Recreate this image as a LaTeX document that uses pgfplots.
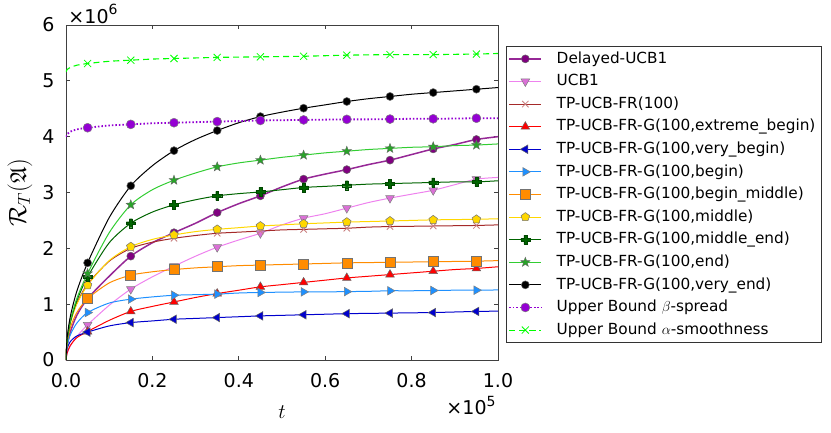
\documentclass[border=0pt]{standalone}
\usepackage{amssymb}
\usepackage{fontspec}
\setmainfont{DejaVu Sans}
\usepackage{pgfplots}
\usepackage{pgfplotstable}
\pgfplotsset{compat=1.18}
\usetikzlibrary{plotmarks}

\definecolor{cDel}{RGB}{128,0,128}
\definecolor{cDelL}{RGB}{150,40,150}
\definecolor{cUCB}{RGB}{238,130,238}
\definecolor{cUCBm}{RGB}{218,112,214}
\definecolor{cFR}{RGB}{165,42,42}
\definecolor{cEB}{RGB}{255,0,0}
\definecolor{cVB}{RGB}{0,0,205}
\definecolor{cB}{RGB}{30,144,255}
\definecolor{cBM}{RGB}{255,140,0}
\definecolor{cM}{RGB}{255,215,0}
\definecolor{cME}{RGB}{0,100,0}
\definecolor{cE}{RGB}{50,205,50}
\definecolor{cBeta}{RGB}{148,0,211}
\definecolor{cAlpha}{RGB}{0,255,0}

\pgfdeclareplotmark{fatplus}{%
  \pgfpathmoveto{\pgfqpoint{-0.33\pgfplotmarksize}{-\pgfplotmarksize}}%
  \pgfpathlineto{\pgfqpoint{0.33\pgfplotmarksize}{-\pgfplotmarksize}}%
  \pgfpathlineto{\pgfqpoint{0.33\pgfplotmarksize}{-0.33\pgfplotmarksize}}%
  \pgfpathlineto{\pgfqpoint{\pgfplotmarksize}{-0.33\pgfplotmarksize}}%
  \pgfpathlineto{\pgfqpoint{\pgfplotmarksize}{0.33\pgfplotmarksize}}%
  \pgfpathlineto{\pgfqpoint{0.33\pgfplotmarksize}{0.33\pgfplotmarksize}}%
  \pgfpathlineto{\pgfqpoint{0.33\pgfplotmarksize}{\pgfplotmarksize}}%
  \pgfpathlineto{\pgfqpoint{-0.33\pgfplotmarksize}{\pgfplotmarksize}}%
  \pgfpathlineto{\pgfqpoint{-0.33\pgfplotmarksize}{0.33\pgfplotmarksize}}%
  \pgfpathlineto{\pgfqpoint{-\pgfplotmarksize}{0.33\pgfplotmarksize}}%
  \pgfpathlineto{\pgfqpoint{-\pgfplotmarksize}{-0.33\pgfplotmarksize}}%
  \pgfpathlineto{\pgfqpoint{-0.33\pgfplotmarksize}{-0.33\pgfplotmarksize}}%
  \pgfpathclose\pgfusepathqfillstroke}
\pgfdeclareplotmark{fatstar}{%
  \pgfpathmoveto{\pgfpointpolar{90}{\pgfplotmarksize}}%
  \pgfpathlineto{\pgfpointpolar{126}{0.42\pgfplotmarksize}}%
  \pgfpathlineto{\pgfpointpolar{162}{\pgfplotmarksize}}%
  \pgfpathlineto{\pgfpointpolar{198}{0.42\pgfplotmarksize}}%
  \pgfpathlineto{\pgfpointpolar{234}{\pgfplotmarksize}}%
  \pgfpathlineto{\pgfpointpolar{270}{0.42\pgfplotmarksize}}%
  \pgfpathlineto{\pgfpointpolar{306}{\pgfplotmarksize}}%
  \pgfpathlineto{\pgfpointpolar{342}{0.42\pgfplotmarksize}}%
  \pgfpathlineto{\pgfpointpolar{18}{\pgfplotmarksize}}%
  \pgfpathlineto{\pgfpointpolar{54}{0.42\pgfplotmarksize}}%
  \pgfpathclose\pgfusepathqfillstroke}

\pgfplotstableread{
t      ducb  ucb   fr    eb    vb    b     bm    m     me    e     ve    beta  alpha
0      0     0     0     0     0     0     0     0     0     0     0     4.00  5.16
0.0025 0.25  0.12  0.35  0.12  0.20  0.25  0.30  0.33  0.33  0.35  0.39  4.04  5.20
0.01   0.50  0.25  0.70  0.26  0.33  0.45  0.58  0.66  0.67  0.70  0.78  4.09  5.24
0.025  0.80  0.42  1.02  0.40  0.43  0.66  0.85  1.00  1.06  1.10  1.23  4.13  5.28
0.05   1.10  0.63  1.36  0.51  0.50  0.85  1.10  1.34  1.49  1.55  1.74  4.16  5.31
0.1    1.50  0.98  1.77  0.71  0.61  1.02  1.38  1.78  2.10  2.28  2.55  4.20  5.35
0.15   1.86  1.27  2.00  0.87  0.67  1.09  1.52  2.03  2.45  2.78  3.12  4.22  5.37
0.2    2.10  1.49  2.11  0.96  0.70  1.13  1.58  2.16  2.65  3.05  3.48  4.24  5.39
0.25   2.28  1.68  2.18  1.04  0.73  1.16  1.62  2.24  2.78  3.22  3.75  4.25  5.40
0.3    2.45  1.86  2.23  1.12  0.745 1.17  1.65  2.30  2.87  3.35  3.95  4.26  5.41
0.35   2.64  2.02  2.27  1.19  0.76  1.18  1.67  2.34  2.94  3.46  4.11  4.27  5.42
0.4    2.80  2.15  2.29  1.25  0.775 1.20  1.69  2.37  2.98  3.53  4.25  4.28  5.425
0.45   2.94  2.27  2.31  1.31  0.79  1.21  1.70  2.40  3.01  3.58  4.36  4.29  5.43
0.5    3.10  2.42  2.33  1.35  0.80  1.215 1.71  2.42  3.05  3.63  4.44  4.295 5.435
0.55   3.24  2.54  2.34  1.39  0.81  1.22  1.72  2.44  3.09  3.67  4.51  4.30  5.44
0.6    3.33  2.62  2.35  1.43  0.82  1.22  1.73  2.455 3.11  3.71  4.57  4.305 5.45
0.65   3.41  2.72  2.36  1.47  0.83  1.225 1.74  2.47  3.13  3.74  4.63  4.31  5.46
0.7    3.50  2.82  2.38  1.50  0.835 1.23  1.745 2.48  3.15  3.77  4.68  4.31  5.465
0.75   3.58  2.90  2.39  1.53  0.84  1.24  1.75  2.49  3.16  3.79  4.72  4.315 5.47
0.8    3.68  2.97  2.395 1.56  0.845 1.24  1.755 2.50  3.17  3.81  4.76  4.32  5.47
0.85   3.78  3.04  2.40  1.59  0.85  1.245 1.76  2.51  3.18  3.82  4.79  4.32  5.47
0.9    3.86  3.14  2.405 1.62  0.86  1.25  1.765 2.515 3.19  3.84  4.82  4.325 5.475
0.95   3.95  3.24  2.41  1.64  0.87  1.25  1.77  2.52  3.19  3.85  4.85  4.33  5.48
1.0    4.00  3.27  2.42  1.67  0.875 1.255 1.78  2.53  3.21  3.87  4.88  4.33  5.49
}\data

\begin{document}
\begin{tikzpicture}
\begin{axis}[
  scale only axis, width=432pt, height=335pt,
  at={(0pt,0pt)}, anchor=south west,
  xmin=0, xmax=1, ymin=0, ymax=6,
  axis line style={black!75, line width=0.9pt},
  tick style={black!75, line width=0.8pt},
  tick align=inside, major tick length=4pt,
  xtick={0,0.2,0.4,0.6,0.8,1.0}, ytick={0,1,2,3,4,5,6},
  minor tick num=0,
  scaled ticks=false,
  /pgf/number format/assume math mode=true,
  xticklabel style={yshift=-9.5pt, /pgf/number format/.cd, fixed, zerofill, precision=1},
  yticklabel style={xshift=-8pt},
  ticklabel style={font=\fontsize{19}{22}\selectfont},
  clip=true,
  every axis plot/.append style={smooth, tension=0.45, mark repeat=2, mark phase=5},
  legend cell align=left,
  legend image code/.code={\draw[mark repeat=2, mark phase=2] plot coordinates {(0pt,0pt) (16pt,0pt) (32pt,0pt)}; \path (43pt,0pt);},
  legend style={at={(axis description cs:1.0185,0.937)}, anchor=north west,
    draw=black!80, line width=0.9pt, font=\fontsize{15.3}{18}\selectfont,
    nodes={inner sep=3.5pt, text height=12pt, text depth=3.6pt},
    row sep=0pt, inner xsep=2pt, inner ysep=1pt},
  mark options={solid},
]
\addplot[cDelL, line width=1.5pt, mark=*, mark size=4pt, mark options={fill=cDel, draw=black!60, line width=0.5pt}] table[x=t,y=ducb]{\data};
\addlegendentry{Delayed-UCB1}
\addplot[cUCB, line width=1pt, mark=triangle*, mark size=5pt, mark options={rotate=180, fill=cUCBm, draw=black!50, line width=0.5pt}] table[x=t,y=ucb]{\data};
\addlegendentry{UCB1}
\addplot[cFR, line width=1pt, mark=x, mark size=4.5pt, mark options={draw=cFR!60!white, line width=0.8pt}] table[x=t,y=fr]{\data};
\addlegendentry{TP-UCB-FR(100)}
\addplot[cEB, line width=1pt, mark=triangle*, mark size=5pt, mark options={fill=cEB, draw=black!60, line width=0.5pt}] table[x=t,y=eb]{\data};
\addlegendentry{TP-UCB-FR-G(100,extreme\_begin)}
\addplot[cVB, line width=1pt, mark=triangle*, mark size=5pt, mark options={rotate=90, fill=cVB, draw=black!60, line width=0.5pt}] table[x=t,y=vb]{\data};
\addlegendentry{TP-UCB-FR-G(100,very\_begin)}
\addplot[cB, line width=1pt, mark=triangle*, mark size=5pt, mark options={rotate=-90, fill=cB, draw=black!50, line width=0.5pt}] table[x=t,y=b]{\data};
\addlegendentry{TP-UCB-FR-G(100,begin)}
\addplot[cBM, line width=1pt, mark=square*, mark size=5pt, mark options={fill=cBM, draw=black!55, line width=0.6pt}] table[x=t,y=bm]{\data};
\addlegendentry{TP-UCB-FR-G(100,begin\_middle)}
\addplot[cM, line width=1pt, mark=pentagon*, mark size=4.5pt, mark options={fill=cM, draw=black!55, line width=0.5pt}] table[x=t,y=m]{\data};
\addlegendentry{TP-UCB-FR-G(100,middle)}
\addplot[cME, line width=1pt, mark=fatplus, mark size=4.5pt, mark options={fill=cME, draw=cME!70!black, line width=0.4pt}] table[x=t,y=me]{\data};
\addlegendentry{TP-UCB-FR-G(100,middle\_end)}
\addplot[cE, line width=1pt, mark=fatstar, mark size=5pt, mark options={fill=cE!80!black, draw=black!60, line width=0.4pt}] table[x=t,y=e]{\data};
\addlegendentry{TP-UCB-FR-G(100,end)}
\addplot[black, line width=1pt, mark=*, mark size=4pt, mark options={fill=black, draw=black!60, line width=0.5pt}] table[x=t,y=ve]{\data};
\addlegendentry{TP-UCB-FR-G(100,very\_end)}
\addplot[cBeta, line width=1.8pt, dash pattern=on 1.5pt off 2pt, mark=*, mark size=4.5pt, mark options={solid, fill=cBeta, draw=black!50, line width=0.5pt}] table[x=t,y=beta]{\data};
\addlegendentry{Upper Bound $\beta$-spread}
\addplot[cAlpha, line width=1.1pt, dash pattern=on 6pt off 4pt, mark=x, mark size=5pt, mark options={solid, draw=cAlpha, line width=0.8pt}] table[x=t,y=alpha]{\data};
\addlegendentry{Upper Bound $\alpha$-smoothness}
\end{axis}
\node[anchor=center, inner sep=0pt, font=\fontsize{19}{22}\selectfont] at (27pt,346pt) {×10\raisebox{0.45em}{\fontsize{14}{14}\selectfont 6}};
\node[anchor=center, inner sep=0pt, font=\fontsize{19}{22}\selectfont] at (405pt,-45.5pt) {×10\raisebox{0.45em}{\fontsize{14}{14}\selectfont 5}};
\node[anchor=center, inner sep=0pt, font=\fontsize{22}{26}\selectfont] at (216pt,-52pt) {$t$};
\node[anchor=center, inner sep=0pt, rotate=90, font=\fontsize{23}{27}\selectfont] at (-46pt,167.5pt) {$\mathcal{R}_T(\mathfrak{A})$};
\pgfresetboundingbox
\path (-66pt,-72pt) rectangle (765pt,360pt);
\end{tikzpicture}
\end{document}
